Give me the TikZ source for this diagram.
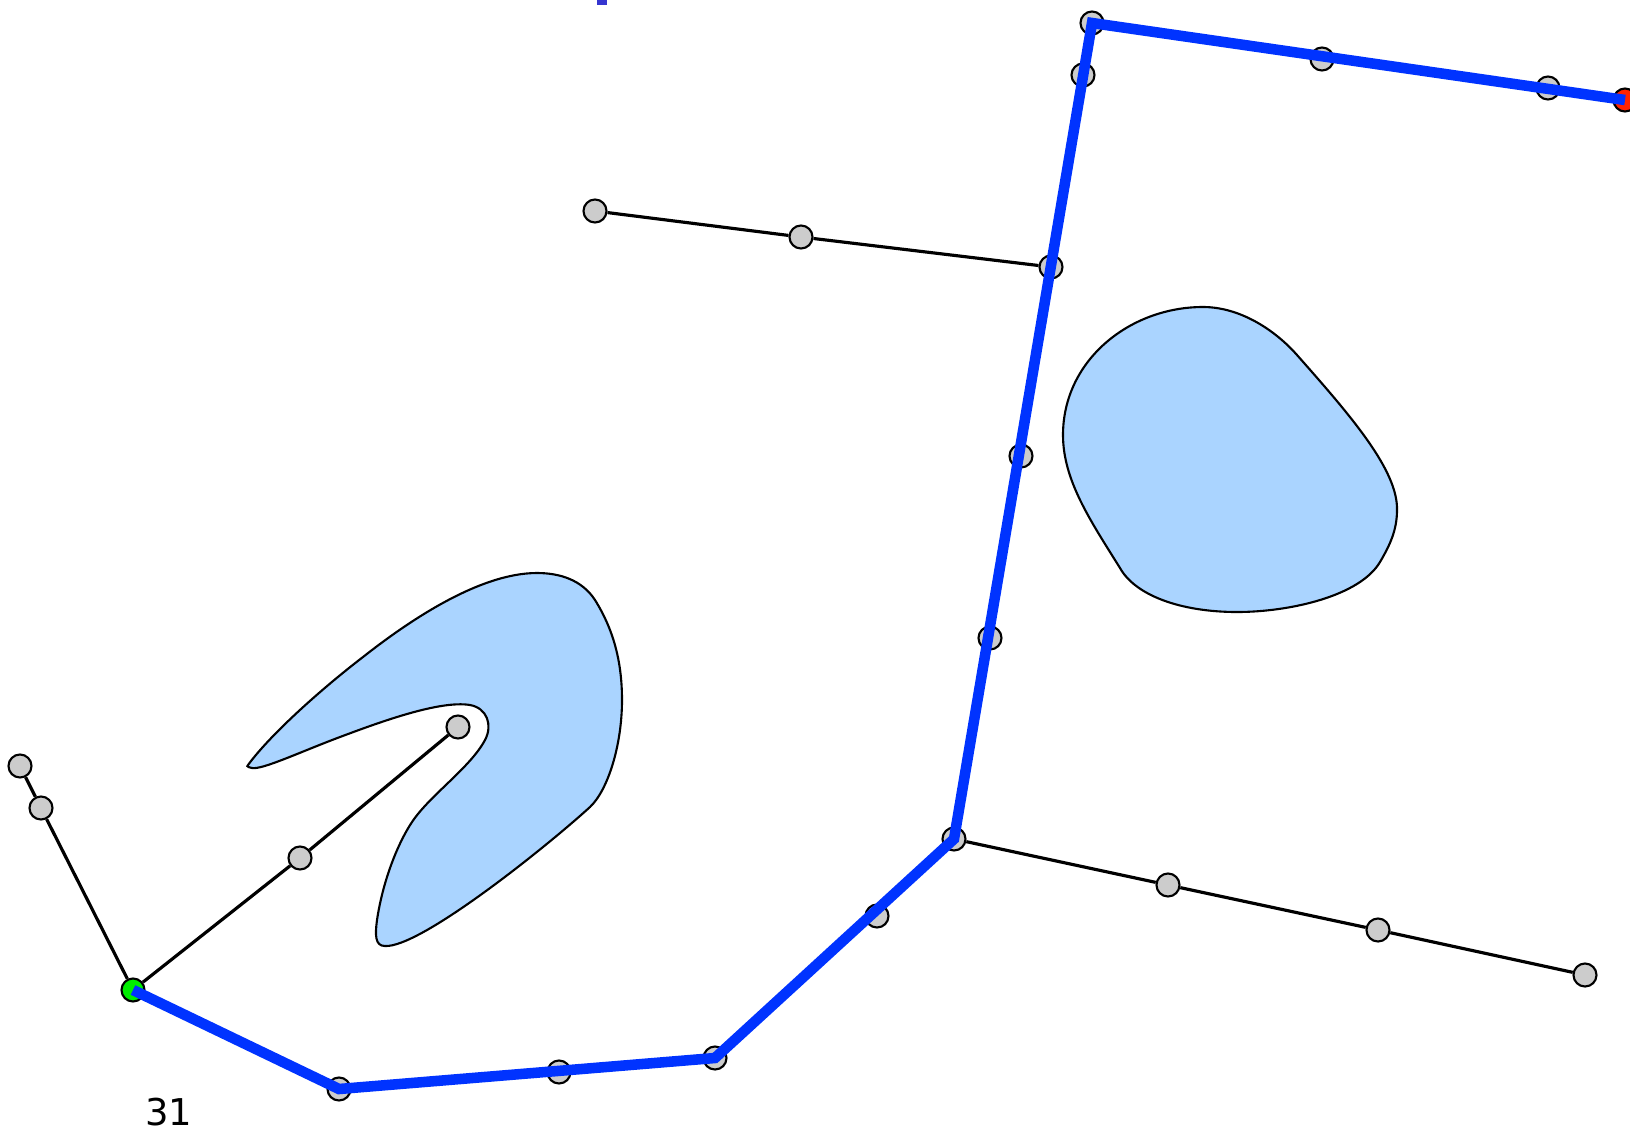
\documentclass[tikz,border=0pt]{standalone}
\usepackage{fontspec}
\setmainfont{DejaVu Sans}
\usetikzlibrary{backgrounds}
\definecolor{route}{HTML}{0033FF}
\definecolor{pond}{HTML}{AAD4FF}
\definecolor{stone}{HTML}{CCCCCC}
\definecolor{start}{HTML}{00EE00}
\definecolor{goal}{HTML}{FF2200}
\definecolor{title}{HTML}{3535D0}
\tikzset{vtx/.style={circle,draw=black,fill=stone,line width=.6pt,minimum size=.23cm,inner sep=0pt},edge/.style={line width=.9pt,black},path/.style={line width=3pt,route},obstacle/.style={draw=black,fill=pond,line width=.6pt}}
\begin{document}
\begin{tikzpicture}[x=.01cm,y=-.01cm]
\useasboundingbox (0,0) rectangle (1630,1133);
\foreach \n/\x/\y in {a/595/211,b/801/237,c/1051/267,d/1092/23,e/1083/75,f/1322/59,g/1548/88,i/1021/456,j/990/638,k/954/839,l/1168/885,m/1378/930,n/1585/975,o/877/916,p/715/1058,q/559/1072,r/339/1089,t/300/858,u/458/727,w/41/808,x/20/766}{\node[vtx] (\n) at (\x,\y) {};}
\node[vtx,fill=start] (s) at (133,990) {};
\node[vtx,fill=goal] (h) at (1625,100) {};
\begin{scope}[on background layer]
% obstacles
\draw[obstacle] (1120,568) .. controls (1090,520) and (1063,480) .. (1063,435) .. controls (1063,360) and (1130,307) .. (1203,307) .. controls (1240,307) and (1275,330) .. (1297,355) .. controls (1350,415) and (1398,470) .. (1397,510) .. controls (1397,530) and (1390,545) .. (1380,562) .. controls (1360,596) and (1290,612) .. (1237,612) .. controls (1180,612) and (1135,595) .. (1120,568) -- cycle;
\draw[obstacle] (248,765) .. controls (270,735) and (320,690) .. (363,657) .. controls (410,620) and (480,573) .. (537,573) .. controls (560,573) and (582,580) .. (595,600) .. controls (615,632) and (622,665) .. (622,700) .. controls (622,745) and (608,790) .. (590,807) .. controls (545,848) and (420,948) .. (385,946) .. controls (375,946) and (375,935) .. (377,920) .. controls (383,880) and (398,843) .. (412,822) .. controls (430,795) and (470,768) .. (485,740) .. controls (493,725) and (487,708) .. (470,705) .. controls (440,700) and (380,722) .. (340,737) .. controls (300,752) and (262,770) .. (252,768) .. controls (246,767) and (247,765) .. (248,765) -- cycle;
\foreach \a/\b in {a/b,b/c,k/l,l/m,m/n,s/t,t/u,s/w,w/x}{\draw[edge] (\a) -- (\b);}
\end{scope}
\draw[path] (s.center) -- (r.center) -- (p.center) -- (k.center) -- (d.center) -- (h.center);
\fill[title] (597,0) rectangle (607,5);
\node (lbl) at (169,1112) {\fontsize{10.5}{12}\selectfont 31};
\end{tikzpicture}
\end{document}
